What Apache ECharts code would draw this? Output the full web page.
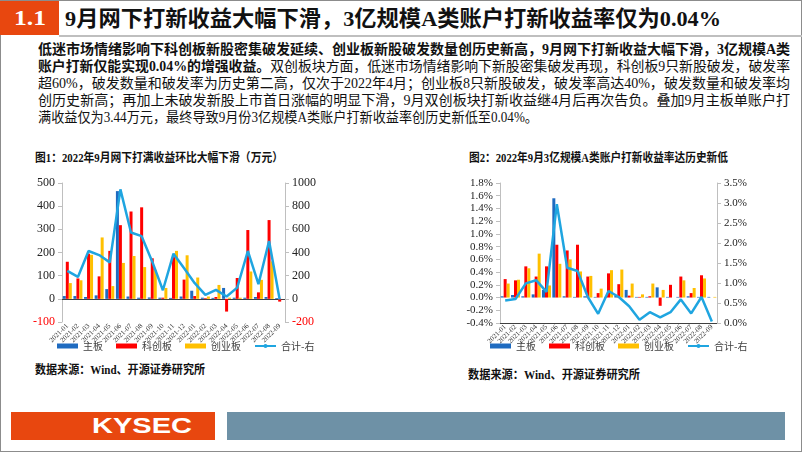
<!DOCTYPE html>
<html><head><meta charset="utf-8">
<script src="https://cdn.jsdelivr.net/npm/echarts@6/dist/echarts.min.js"></script>
<style>
html,body{margin:0;padding:0;background:#fff;}
body{width:802px;height:452px;position:relative;overflow:hidden;font-family:"Liberation Serif","Noto Sans CJK SC",serif;}
.t{position:absolute;white-space:nowrap;transform-origin:0 50%;color:#111;}
.frame{position:absolute;left:0;top:0;width:800px;height:450px;border:1px solid #8c8c8c;}
#chart{position:absolute;left:0;top:0;width:802px;height:452px;}
</style></head>
<body>
<div class="frame"></div>
<div style="position:absolute;left:0;top:1px;width:59px;height:34px;background:#E8470F;"></div>
<div class="t" style="left:14px;top:5px;font-size:22px;line-height:26px;font-weight:bold;color:#fff;" data-w="32">1.1</div>
<div style="position:absolute;left:59px;top:35px;width:743px;height:2px;background:#BFBFBF;"></div>
<div class="t" style="left:65px;top:5px;font-size:22px;line-height:28px;font-weight:bold;" data-w="656">9月网下打新收益大幅下滑，3亿规模A类账户打新收益率仅为0.04%</div>

<div class="t" style="left:38px;top:41px;font-size:14px;line-height:18px;font-weight:bold;" data-w="752">低迷市场情绪影响下科创板新股密集破发延续、创业板新股破发数量创历史新高，9月网下打新收益大幅下滑，3亿规模A类</div>
<div class="t" style="left:38px;top:58px;font-size:14px;line-height:18px;" data-w="752"><b>账户打新仅能实现0.04%的增强收益。</b>双创板块方面，低迷市场情绪影响下新股密集破发再现，科创板9只新股破发，破发率</div>
<div class="t" style="left:38px;top:75px;font-size:14px;line-height:18px;" data-w="752">超60%，破发数量和破发率为历史第二高，仅次于2022年4月；创业板8只新股破发，破发率高达40%，破发数量和破发率均</div>
<div class="t" style="left:38px;top:92px;font-size:14px;line-height:18px;" data-w="752">创历史新高；再加上未破发新股上市首日涨幅的明显下滑，9月双创板块打新收益继4月后再次告负。叠加9月主板单账户打</div>
<div class="t" style="left:38px;top:109px;font-size:14px;line-height:18px;" data-w="500">满收益仅为3.44万元，最终导致9月份3亿规模A类账户打新收益率创历史新低至0.04%。</div>

<div class="t" style="left:35px;top:150px;font-size:12px;line-height:16px;font-weight:bold;" data-w="248">图1：2022年9月网下打满收益环比大幅下滑（万元）</div>
<div class="t" style="left:469px;top:150px;font-size:12px;line-height:16px;font-weight:bold;" data-w="259">图2：2022年9月3亿规模A类账户打新收益率达历史新低</div>
<div class="t" style="left:35px;top:362px;font-size:12px;line-height:16px;font-weight:bold;" data-w="170">数据来源：Wind、开源证券研究所</div>
<div class="t" style="left:468px;top:367px;font-size:12px;line-height:16px;font-weight:bold;" data-w="172">数据来源：Wind、开源证券研究所</div>

<div style="position:absolute;left:11px;top:412px;width:204px;height:28px;background:#E8470F;"></div>
<div class="t" style="left:92px;top:412px;font-family:'Liberation Sans','Arial',sans-serif;font-size:22px;line-height:28px;font-weight:bold;color:#fff;" data-w="100">KYSEC</div>
<div style="position:absolute;left:227px;top:412px;width:558px;height:28px;background:#6E91A6;"></div>

<div id="chart"></div>
<script>
const cats = ['2021-01','2021-02','2021-03','2021-04','2021-05','2021-06','2021-07','2021-08','2021-09','2021-10','2021-11','2021-12','2022-01','2022-02','2022-03','2022-04','2022-05','2022-06','2022-07','2022-08','2022-09'];
const names = ['主板','科创板','创业板','合计-右'];
// Chart 1 (万元)
const c1Main  = [12,12,8,15,42,465,10,5,6,5,4,10,35,5,4,47,5,5,8,8,3.44];
const c1Star  = [160,88,195,97,207,318,377,395,175,5,180,83,12,3,8,-55,90,297,28,340,-12];
const c1Gem   = [68,80,190,265,55,155,185,137,125,47,207,188,92,10,60,5,5,118,82,162,0];
const c1Total = [241,189,413,378,315,945,573,541,321,74,390,264,135,34,77,20,97,413,126,499,-5];
const c1LeftTicks = [-100,500,100];
const c1RightTicks = [-200,1000,200];
// Chart 2 (%)
const c2Main  = [0.02,0.04,0.02,0.05,0.12,1.56,0.02,0.01,0.02,0.01,0.01,0.03,0.12,0.01,0.01,0.16,0.01,0.01,0.02,0.01,0.01];
const c2Star  = [0.29,0.27,0.49,0.33,0.49,0.83,0.74,0.83,0.33,0.07,0.38,0.21,0.03,0.01,0.02,-0.13,0.20,0.33,0.07,0.35,0.00];
const c2Gem   = [0.22,0.28,0.46,0.69,0.19,0.53,0.60,0.41,0.34,0.14,0.43,0.44,0.22,0.05,0.22,0.12,0.00,0.27,0.15,0.30,0.01];
const c2Total = [0.56,0.60,0.99,1.07,0.78,2.97,1.38,1.30,0.65,0.23,0.80,0.65,0.42,0.08,0.27,0.14,0.27,0.59,0.24,0.65,0.04];
const c2LeftTicks = [-0.4,1.8,0.2];
const c2RightTicks = [0,3.5,0.5];

const colors = ['#1F6BC0','#FF0000','#FFC000','#1FA5E0'];
const serif = '"Liberation Serif","Times New Roman",serif';

function fitAll(){
  document.querySelectorAll('.t').forEach(el=>{
    el.style.transform='none';
    const w = el.getBoundingClientRect().width;
    const target = +el.dataset.w;
    if(w>0 && target) el.style.transform='scaleX('+(target/w)+')';
  });
}
fitAll();
if(document.fonts && document.fonts.ready) document.fonts.ready.then(fitAll);

function pct(v){ if(Math.abs(v)<1e-9) v=0; return v.toFixed(1)+'%'; }
function neg(v){ return v<0 ? '{n|'+v+'}' : String(v); }

function xAx(gi, yi){
  return {type:'category', gridIndex:gi, data:cats,
    axisLine:{onZero:true, onZeroAxisIndex:yi, lineStyle:{color:'#404040',width:1}},
    axisTick:{show:false},
    axisLabel:{interval:0, rotate:45, fontSize:7, color:'#333', fontFamily:serif, margin:3}};
}
function yAx(gi, t, pos, fmt){
  return {type:'value', gridIndex:gi, position:pos, min:t[0], max:t[1], interval:t[2],
    axisLine:{show:true, lineStyle:{color:'#BFBFBF'}},
    axisTick:{show:true, length:4, lineStyle:{color:'#BFBFBF'}},
    splitLine:{show:false},
    axisLabel:{fontSize: gi===0?12:11, color:'#222', fontFamily:serif, margin:7, formatter:fmt,
      rich:{n:{color:'#FF0000', fontSize: gi===0?12:11, fontFamily:serif}}}};
}
function bar(name, data, xi, yi, c){
  return {name, type:'bar', xAxisIndex:xi, yAxisIndex:yi, data, barWidth:3, barGap:'0%',
    itemStyle:{color:c}, z:2};
}
function line(name, data, xi, yi){
  return {name, type:'line', xAxisIndex:xi, yAxisIndex:yi, data, symbol:'none',
    lineStyle:{width:2.5, color:colors[3]}, itemStyle:{color:colors[3]}, z:5};
}
const legData = [{name:names[0],icon:'rect'},{name:names[1],icon:'rect'},{name:names[2],icon:'rect'},names[3]];
function leg(left){
  return {left, top:336, itemWidth:21, itemHeight:5, itemGap:13, data:legData,
    textStyle:{fontSize:10, color:'#404040', fontFamily:'"Noto Sans CJK SC",sans-serif'}};
}

const chart = echarts.init(document.getElementById('chart'), null, {renderer:'canvas'});
chart.setOption({
  animation:false,
  color:colors,
  legend:[leg(52), leg(485)],
  grid:[
    {left:62, right:517, top:183, bottom:130, containLabel:false},
    {left:500, right:85, top:183, bottom:129, containLabel:false}
  ],
  xAxis:[xAx(0,0), xAx(1,0)],
  yAxis:[
    yAx(0, c1LeftTicks, 'left', neg),
    yAx(0, c1RightTicks, 'right', neg),
    yAx(1, c2LeftTicks, 'left', pct),
    yAx(1, c2RightTicks, 'right', pct)
  ],
  series:[
    bar(names[0], c1Main, 0, 0, colors[0]),
    bar(names[1], c1Star, 0, 0, colors[1]),
    bar(names[2], c1Gem, 0, 0, colors[2]),
    line(names[3], c1Total, 0, 1),
    bar(names[0], c2Main, 1, 2, colors[0]),
    bar(names[1], c2Star, 1, 2, colors[1]),
    bar(names[2], c2Gem, 1, 2, colors[2]),
    line(names[3], c2Total, 1, 3)
  ]
});
</script>
</body></html>
